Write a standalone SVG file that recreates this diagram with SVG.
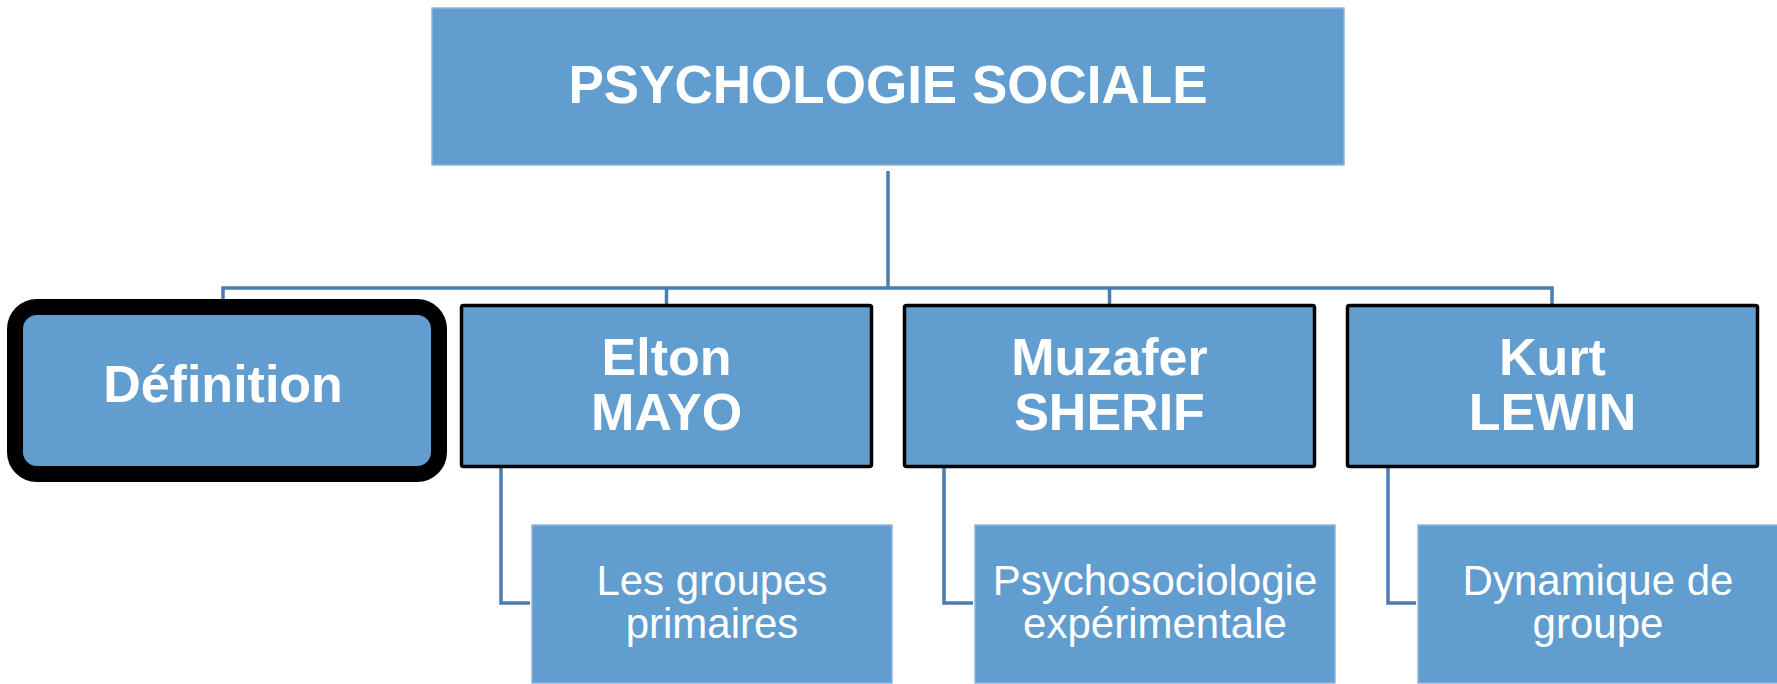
<svg xmlns="http://www.w3.org/2000/svg" width="1777" height="684" viewBox="0 0 1777 684">
<style>
.bg{fill:#ffffff}
.top{fill:#629dd0;stroke:#8fb6de;stroke-width:1.5}
.mid{fill:#629dd0;stroke:#000000;stroke-width:3.5}
.sel{fill:#629dd0;stroke:#000000;stroke-width:16}
.leaf{fill:#629dd0;stroke:#8fb6de;stroke-width:1.5}
.conn{fill:none;stroke:#4a7eb0;stroke-width:3.5;stroke-linejoin:miter}
.tb{font-family:"Liberation Sans",Arial,sans-serif;font-weight:bold;fill:#ffffff;text-anchor:middle}
.tr{font-family:"Liberation Sans",Arial,sans-serif;fill:#ffffff;text-anchor:middle;font-size:42px}
</style>
<rect class="bg" x="0" y="0" width="1777" height="684"/>
<g id="connectors">
<path class="conn" d="M888,171 V288"/>
<path class="conn" d="M223,300 V288 H1552 V304"/>
<path class="conn" d="M666.5,288 V304"/>
<path class="conn" d="M1109.5,288 V304"/>
<path class="conn" d="M501,468 V603 H530"/>
<path class="conn" d="M944,468 V603 H973"/>
<path class="conn" d="M1388,468 V603 H1416"/>
</g>
<g id="node-root">
<rect class="top" x="432" y="8" width="912" height="157"/>
<text class="tb" x="888" y="103" font-size="53">PSYCHOLOGIE SOCIALE</text>
</g>
<g id="node-definition">
<rect class="sel" x="15" y="307" width="424" height="167" rx="22" ry="22"/>
<text class="tb" x="223" y="402" font-size="52">Définition</text>
</g>
<g id="node-mayo">
<rect class="mid" x="461.5" y="305.5" width="410" height="161" rx="2"/>
<text class="tb" x="666.5" y="375" font-size="52">Elton</text>
<text class="tb" x="666.5" y="430" font-size="52">MAYO</text>
</g>
<g id="node-sherif">
<rect class="mid" x="904.5" y="305.5" width="410" height="161" rx="2"/>
<text class="tb" x="1109.5" y="375" font-size="52">Muzafer</text>
<text class="tb" x="1109.5" y="430" font-size="52">SHERIF</text>
</g>
<g id="node-lewin">
<rect class="mid" x="1347.5" y="305.5" width="410" height="161" rx="2"/>
<text class="tb" x="1552.5" y="375" font-size="52">Kurt</text>
<text class="tb" x="1552.5" y="430" font-size="52">LEWIN</text>
</g>
<g id="node-groupes">
<rect class="leaf" x="532" y="525" width="360" height="158"/>
<text class="tr" x="712" y="595">Les groupes</text>
<text class="tr" x="712" y="638">primaires</text>
</g>
<g id="node-psycho">
<rect class="leaf" x="975" y="525" width="360" height="158"/>
<text class="tr" x="1155" y="595">Psychosociologie</text>
<text class="tr" x="1155" y="638">expérimentale</text>
</g>
<g id="node-dynamique">
<rect class="leaf" x="1418" y="525" width="362" height="158"/>
<text class="tr" x="1598" y="595">Dynamique de</text>
<text class="tr" x="1598" y="638">groupe</text>
</g>
</svg>
